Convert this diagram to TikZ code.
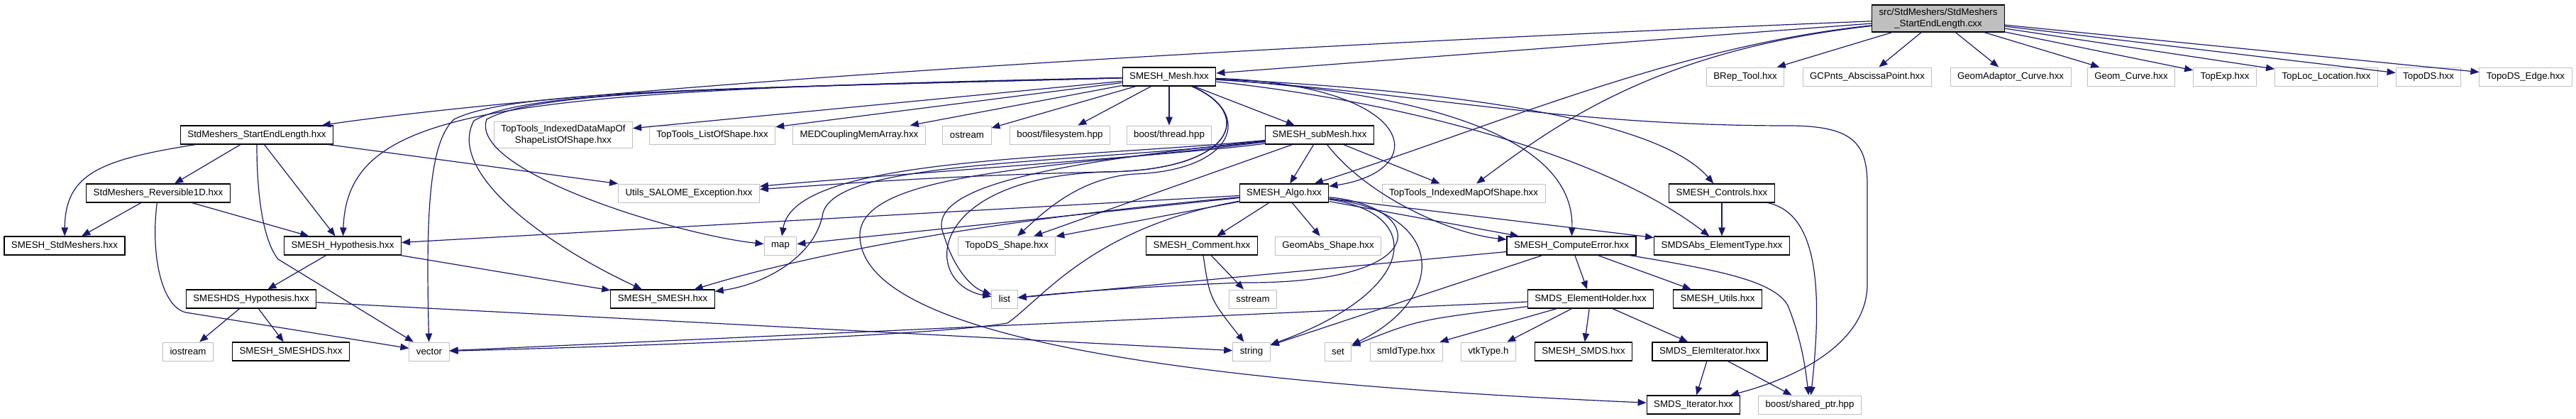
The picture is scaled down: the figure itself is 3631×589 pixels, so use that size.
\documentclass[tikz,border=0pt]{standalone}
\usepackage{fontspec}
\setmainfont{Liberation Sans}
\usetikzlibrary{arrows.meta}
\definecolor{edgeblue}{RGB}{25,25,112}
\definecolor{boxgrey}{RGB}{191,191,191}

\begin{document}
\begin{tikzpicture}[x=1pt,y=-1pt,
		font=\fontsize{13.3}{15.5}\selectfont,
		hdrbox/.style={draw=black,line width=1.2pt,fill=white,inner xsep=10pt,inner ysep=5pt,minimum height=26pt,align=center},
		sysbox/.style={hdrbox,draw=boxgrey,line width=1pt},
		rootbox/.style={hdrbox,fill=boxgrey},
		depline/.style={draw=edgeblue,line width=1.2pt,-{Triangle[length=12pt,width=9.5pt]}}]
		\useasboundingbox (0,0) rectangle (3631,589);
		\node[rootbox] (root) at (2732,26) {src/StdMeshers/StdMeshers\\\_StartEndLength.cxx};
		\node[sysbox] (brep) at (2460,108) {BRep\_Tool.hxx};
		\node[sysbox] (gcpnts) at (2632,108) {GCPnts\_AbscissaPoint.hxx};
		\node[sysbox] (adaptor) at (2834,108) {GeomAdaptor\_Curve.hxx};
		\node[sysbox] (geomcurve) at (3004,108) {Geom\_Curve.hxx};
		\node[sysbox] (topexp) at (3136,108) {TopExp.hxx};
		\node[sysbox] (toploc) at (3279,108) {TopLoc\_Location.hxx};
		\node[sysbox] (topods) at (3423,108) {TopoDS.hxx};
		\node[sysbox] (tdsedge) at (3560,108) {TopoDS\_Edge.hxx};
		\node[hdrbox] (mesh) at (1648,108) {SMESH\_Mesh.hxx};
		\node[hdrbox] (selh) at (362,190) {StdMeshers\_StartEndLength.hxx};
		\node[sysbox] (datamap) at (794,190) {TopTools\_IndexedDataMapOf\\ShapeListOfShape.hxx};
		\node[sysbox] (listshape) at (1004,190) {TopTools\_ListOfShape.hxx};
		\node[sysbox] (medc) at (1211,190) {MEDCouplingMemArray.hxx};
		\node[sysbox] (ostream) at (1363,190) {ostream};
		\node[sysbox] (filesys) at (1494,190) {boost/filesystem.hpp};
		\node[sysbox] (thread) at (1648,190) {boost/thread.hpp};
		\node[hdrbox] (submesh) at (1860,190) {SMESH\_subMesh.hxx};
		\node[hdrbox] (rev) at (223,272) {StdMeshers\_Reversible1D.hxx};
		\node[sysbox] (salome) at (971,272) {Utils\_SALOME\_Exception.hxx};
		\node[hdrbox] (algo) at (1810,272) {SMESH\_Algo.hxx};
		\node[sysbox] (idxmap) at (2063,272) {TopTools\_IndexedMapOfShape.hxx};
		\node[hdrbox] (controls) at (2427,272) {SMESH\_Controls.hxx};
		\node[hdrbox] (stdm) at (91,346) {SMESH\_StdMeshers.hxx};
		\node[hdrbox] (hyp) at (483,346) {SMESH\_Hypothesis.hxx};
		\node[sysbox] (stdmap) at (1100,346) {map};
		\node[sysbox] (shape) at (1419,346) {TopoDS\_Shape.hxx};
		\node[hdrbox] (comment) at (1694,346) {SMESH\_Comment.hxx};
		\node[sysbox] (geomabs) at (1872,346) {GeomAbs\_Shape.hxx};
		\node[hdrbox] (comperr) at (2215,346) {SMESH\_ComputeError.hxx};
		\node[hdrbox] (elemtype) at (2427,346) {SMDSAbs\_ElementType.hxx};
		\node[hdrbox] (dshyp) at (354,421) {SMESHDS\_Hypothesis.hxx};
		\node[hdrbox] (smesh) at (934,421) {SMESH\_SMESH.hxx};
		\node[sysbox] (stdlist) at (1416,421) {list};
		\node[sysbox] (sstream) at (1766,421) {sstream};
		\node[hdrbox] (holder) at (2242,421) {SMDS\_ElementHolder.hxx};
		\node[hdrbox] (utils) at (2421,421) {SMESH\_Utils.hxx};
		\node[sysbox] (iostream) at (265,495) {iostream};
		\node[hdrbox] (smeshds) at (410,495) {SMESH\_SMESHDS.hxx};
		\node[sysbox] (stdvector) at (605,495) {vector};
		\node[sysbox] (stdstring) at (1764,495) {string};
		\node[sysbox] (stdset) at (1886,495) {set};
		\node[sysbox] (smid) at (1982,495) {smIdType.hxx};
		\node[sysbox] (vtk) at (2098,495) {vtkType.h};
		\node[hdrbox] (smds) at (2232,495) {SMESH\_SMDS.hxx};
		\node[hdrbox] (elemit) at (2410,495) {SMDS\_ElemIterator.hxx};
		\node[hdrbox] (iter) at (2387,570) {SMDS\_Iterator.hxx};
		\node[sysbox] (shptr) at (2551,570) {boost/shared\_ptr.hpp};

		\draw[depline] (root) -- (mesh);
		\draw[depline] (root) .. controls (1400,80) and (700,140) .. (selh);
		\draw[depline] (root) .. controls (2360,65) and (2100,180) .. (algo);
		\draw[depline] (root) .. controls (2340,70) and (2200,170) .. (idxmap);
		\foreach \n in {brep,gcpnts,adaptor,geomcurve,topexp,toploc,topods,tdsedge}
			\draw[depline] (root) -- (\n);

		\foreach \n in {datamap,listshape,medc,ostream,filesys,thread,submesh}
			\draw[depline] (mesh) -- (\n);
		\draw[depline] (mesh) .. controls (700,128) and (490,150) .. (hyp);
		\draw[depline] (mesh) .. controls (1000,125) and (720,128) .. (640,168) .. controls (605,200) and (600,300) .. (stdvector);
		\draw[depline] (mesh) .. controls (1000,125) and (740,128) .. (668,170) .. controls (630,240) and (760,340) .. (smesh);
		\draw[depline] (mesh) .. controls (1000,125) and (760,128) .. (686,168) .. controls (660,240) and (950,330) .. (stdmap);
		\draw[depline] (mesh) .. controls (1770,160) and (1740,240) .. (1560,242) .. controls (1300,248) and (1150,262) .. (salome);
		\draw[depline] (mesh) .. controls (1770,160) and (1740,240) .. (1600,245) .. controls (1520,250) and (1470,300) .. (shape);
		\draw[depline] (mesh) .. controls (1770,160) and (1740,240) .. (1560,242) .. controls (1300,250) and (1300,400) .. (stdlist);
		\draw[depline] (mesh) .. controls (2000,120) and (2020,240) .. (algo);
		\draw[depline] (mesh) .. controls (2000,130) and (2220,190) .. (comperr);
		\draw[depline] (mesh) .. controls (1950,140) and (2250,210) .. (elemtype);
		\draw[depline] (mesh) .. controls (2000,125) and (2330,160) .. (controls);
		\draw[depline] (mesh) .. controls (2000,130) and (2200,177) .. (2520,177) .. controls (2610,177) and (2632,200) .. (2632,260) -- (2632,400) .. controls (2632,480) and (2540,530) .. (iter);

		\draw[depline] (selh) .. controls (140,225) and (92,245) .. (stdm);
		\draw[depline] (selh) -- (rev);
		\draw[depline] (selh) -- (hyp);
		\draw[depline] (selh) .. controls (362,280) and (372,340) .. (392,365) -- (stdvector);
		\draw[depline] (selh) -- (salome);

		\draw[depline] (rev) -- (stdm);
		\draw[depline] (rev) -- (hyp);
		\draw[depline] (rev) .. controls (212,360) and (228,432) .. (262,440) -- (stdvector);

		\draw[depline] (hyp) -- (dshyp);
		\draw[depline] (hyp) -- (smesh);
		\draw[depline] (dshyp) -- (iostream);
		\draw[depline] (dshyp) -- (smeshds);
		\draw[depline] (dshyp) -- (stdstring);

		\draw[depline] (submesh) -- (algo);
		\draw[depline] (submesh) -- (idxmap);
		\draw[depline] (submesh) -- (shape);
		\draw[depline] (submesh) .. controls (1700,215) and (1200,250) .. (salome);
		\draw[depline] (submesh) .. controls (1500,225) and (1120,220) .. (stdmap);
		\draw[depline] (submesh) .. controls (1500,228) and (1300,260) .. (1330,330) .. controls (1345,380) and (1370,405) .. (stdlist);
		\draw[depline] (submesh) .. controls (1500,232) and (1180,225) .. (1160,300) .. controls (1150,360) and (1080,400) .. (smesh);
		\draw[depline] (submesh) .. controls (1930,280) and (2050,330) .. (comperr);
		\draw[depline] (submesh) .. controls (1500,236) and (1215,240) .. (1212,330) .. controls (1210,480) and (1700,540) .. (iter);

		\draw[depline] (algo) -- (hyp);
		\draw[depline] (algo) -- (stdmap);
		\draw[depline] (algo) -- (shape);
		\draw[depline] (algo) -- (comment);
		\draw[depline] (algo) -- (geomabs);
		\draw[depline] (algo) -- (comperr);
		\draw[depline] (algo) -- (elemtype);
		\draw[depline] (algo) .. controls (1500,300) and (1200,340) .. (smesh);
		\draw[depline] (algo) .. controls (2010,290) and (2030,400) .. (1750,398) .. controls (1600,404) and (1500,412) .. (stdlist);
		\draw[depline] (algo) .. controls (2010,300) and (2000,410) .. (stdstring);
		\draw[depline] (algo) .. controls (2040,300) and (2040,420) .. (stdset);
		\draw[depline] (algo) .. controls (1540,320) and (1470,420) .. (1420,455) .. controls (1300,475) and (800,490) .. (stdvector);

		\draw[depline] (comment) .. controls (1705,420) .. (stdstring);
		\draw[depline] (comment) -- (sstream);

		\draw[depline] (comperr) -- (stdlist);
		\draw[depline] (comperr) -- (stdstring);
		\draw[depline] (comperr) -- (holder);
		\draw[depline] (comperr) -- (utils);
		\draw[depline] (comperr) .. controls (2420,380) and (2500,395) .. (2520,430) .. controls (2540,480) and (2545,520) .. (shptr);

		\draw[depline] (holder) -- (stdvector);
		\draw[depline] (holder) .. controls (2000,450) .. (stdset);
		\foreach \n in {smid,vtk,smds,elemit}
			\draw[depline] (holder) -- (\n);

		\draw[depline] (elemit) -- (iter);
		\draw[depline] (elemit) -- (shptr);
		\draw[depline] (controls) -- (elemtype);
		\draw[depline] (controls) .. controls (2560,300) and (2570,400) .. (shptr);
	\end{tikzpicture}
\end{document}
